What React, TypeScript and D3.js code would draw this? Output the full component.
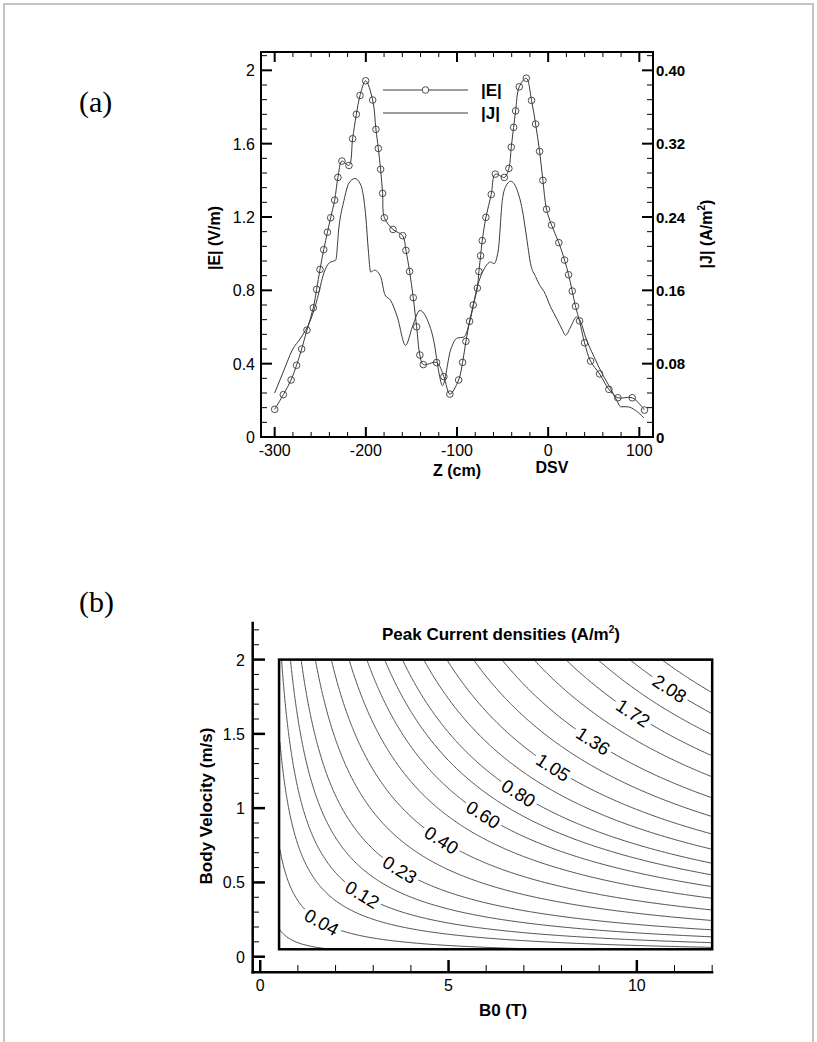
import React, { useEffect, useRef } from "react"
import * as d3 from "d3"

// ---- (a) field profile along the bore ----
// |E| samples (circle markers), Z in cm, |E| in V/m
const eZ = [
  -300, -290.5, -282, -276, -270.4, -264.6, -257.6, -254, -250.3, -246.2, -242.1, -238.6, -234.2,
  -230.6, -226.2, -218.5, -214.5, -210.4, -206.4, -200.2, -192.5, -188.9, -186.3, -183.8, -181.6,
  -179.7, -170.2, -159.6, -156, -152, -148, -144.3, -140.7, -137, -122.4, -114.4, -107.8, -98.2,
  -93.9, -90.2, -86.2, -82.2, -77.7, -76, -74.1, -72.3, -68.3, -62.4, -58, -48.1, -43.1, -40.5,
  -37.9, -35.7, -31.7, -24, -18.2, -13.8, -9.4, -5.8, -1.8, 3.7, 11.7, 18, 22.4, 26.4, 30, 34.4,
  39.9, 46.5, 56.4, 66.6, 76.4, 92.2, 105.7,
]
const eVal = [
  0.151, 0.231, 0.311, 0.391, 0.48, 0.583, 0.705, 0.805, 0.914, 1.022, 1.117, 1.196, 1.292,
  1.416, 1.505, 1.481, 1.627, 1.76, 1.863, 1.943, 1.838, 1.678, 1.574, 1.46, 1.329,
  1.196, 1.132, 1.098, 1.018, 0.903, 0.76, 0.601, 0.447, 0.395, 0.406, 0.329, 0.234, 0.311,
  0.407, 0.522, 0.631, 0.72, 0.812, 0.903, 0.989, 1.071, 1.198, 1.323, 1.434, 1.416, 1.465, 1.581,
  1.689, 1.779, 1.91, 1.957, 1.836, 1.707, 1.558, 1.4, 1.242, 1.156, 1.06, 0.965, 0.885, 0.796, 0.713, 0.633,
  0.514, 0.414, 0.344, 0.26, 0.214, 0.214, 0.147,
]
// |J| curve, Z in cm, |J| in A/m^2
const jZ = [
  -300, -289.8, -280.6, -271.5, -260.5, -253.2, -246, -240, -233, -229.5, -224, -218.5, -212, -206,
  -203.8, -200, -197.3, -194.7, -190.4, -183.8, -179, -172.8, -165.5, -156.4, -149, -140.7, -132.6,
  -125.3, -119.8, -116, -107, -99.7, -92.4, -86, -77.7, -68.6, -63.2, -59.5, -54.7, -50.3, -46.7,
  -41, -33.9, -28.4, -23.7, -19.3, -13.8, -8.3, -4.7, 2.6, 10, 15.5, 19.1, 24.6, 31.1, 35.5, 41,
  50.1, 59.3, 68.4, 75.8, 79.4, 86.7, 95.8, 104.9,
]
const jVal = [
  0.048, 0.073, 0.095, 0.108, 0.128, 0.151, 0.179, 0.19, 0.193, 0.229, 0.258, 0.277, 0.282, 0.276,
  0.269, 0.24, 0.204, 0.18, 0.182, 0.175, 0.155, 0.149, 0.131, 0.1, 0.12, 0.138, 0.128,
  0.104, 0.07, 0.056, 0.095, 0.108, 0.109, 0.126, 0.164, 0.186, 0.191, 0.189, 0.204, 0.258, 0.273,
  0.279, 0.269, 0.248, 0.218, 0.189, 0.175, 0.164, 0.159, 0.142, 0.128, 0.117, 0.111, 0.12, 0.131, 0.126, 0.109,
  0.088, 0.069, 0.053, 0.039, 0.033, 0.033, 0.029, 0.021,
]
const legendNames = ["|E|", "|J|"]
const zTicks = [-300, -200, -100, 0, 100]
const eTicks = [0, 0.4, 0.8, 1.2, 1.6, 2]
const jTicks = [0, 0.08, 0.16, 0.24, 0.32, 0.4]

// ---- (b) peak current density map ----
const b0Ticks = [0, 5, 10]
const velTicks = [0, 0.5, 1, 1.5, 2]
const b0Range = [0.5, 12]
const velRange = [0.05, 2]
const sigmaEff = 0.106 // J = sigma * B0 * v
const levels = [
  0.01, 0.04, 0.08, 0.12, 0.17, 0.23, 0.31, 0.4, 0.5, 0.6, 0.7, 0.8, 0.92, 1.05, 1.2, 1.36, 1.54,
  1.72, 1.9, 2.08, 2.26,
]
const labelLevels = [0.04, 0.12, 0.23, 0.4, 0.6, 0.8, 1.05, 1.36, 1.72, 2.08]
const labelB0 = [1.65, 2.7, 3.72, 4.82, 5.93, 6.86, 7.79, 8.85, 9.91, 10.88]

const SANS = "'Liberation Sans', Arial, Helvetica, sans-serif"
const SERIF = "'Liberation Serif', 'Times New Roman', serif"
const INK = "#3a3a3a"

function drawProfile(svg: any) {
  const left = 261, right = 653, top = 52, bottom = 437
  const x = d3.scaleLinear().domain([-315, 115]).range([left, right])
  const yE = d3.scaleLinear().domain([0, 2.1]).range([bottom, top])
  const yJ = d3.scaleLinear().domain([0, 0.42]).range([bottom, top])
  const g = svg.append("g").attr("font-family", SANS)

  svg.append("clipPath").attr("id", "clipA").append("rect")
    .attr("x", left).attr("y", top).attr("width", right - left).attr("height", bottom - top)

  const plot = g.append("g").attr("clip-path", "url(#clipA)")
  const jLine = d3.line<number>().x((d, i) => x(jZ[i])).y(d => yJ(d)).curve(d3.curveMonotoneX)
  plot.append("path").datum(jVal).attr("d", jLine)
    .attr("fill", "none").attr("stroke", INK).attr("stroke-width", 1)
  const eLine = d3.line<number>().x((d, i) => x(eZ[i])).y(d => yE(d)).curve(d3.curveCatmullRom.alpha(0.5))
  plot.append("path").datum(eVal).attr("d", eLine)
    .attr("fill", "none").attr("stroke", INK).attr("stroke-width", 1)
  plot.selectAll("circle.mk").data(eVal).join("circle").attr("class", "mk")
    .attr("cx", (d, i) => x(eZ[i])).attr("cy", d => yE(d)).attr("r", 3.3)
    .attr("fill", "none").attr("stroke", INK).attr("stroke-width", 0.9)

  // frame
  g.append("rect").attr("x", left).attr("y", top).attr("width", right - left).attr("height", bottom - top)
    .attr("fill", "none").attr("stroke", "#000").attr("stroke-width", 2)

  // ticks
  const zMinor = d3.range(-300, 101, 20).filter(v => v % 100 !== 0)
  const tick = (x1: number, y1: number, x2: number, y2: number, w: number) =>
    g.append("line").attr("x1", x1).attr("y1", y1).attr("x2", x2).attr("y2", y2)
      .attr("stroke", "#000").attr("stroke-width", w)
  zTicks.forEach(v => { tick(x(v), bottom, x(v), bottom - 10, 2); tick(x(v), top, x(v), top + 10, 2) })
  zMinor.forEach(v => { tick(x(v), bottom, x(v), bottom - 5, 1); tick(x(v), top, x(v), top + 5, 1) })
  eTicks.forEach(v => tick(left, yE(v), left + 11, yE(v), 2))
  d3.range(0, 27).filter(i => i % 5 !== 0).forEach(i => tick(left, yE(i * 0.08), left + 6, yE(i * 0.08), 1))
  jTicks.forEach(v => tick(right, yJ(v), right - 11, yJ(v), 2))
  d3.range(0, 27).filter(i => i % 5 !== 0).forEach(i => tick(right, yJ(i * 0.016), right - 6, yJ(i * 0.016), 1))

  // tick labels
  g.selectAll("text.zl").data(zTicks).join("text").attr("class", "zl")
    .attr("x", d => x(d)).attr("y", 456).attr("text-anchor", "middle").attr("font-size", 16)
    .text(d => String(d))
  g.selectAll("text.el").data(eTicks).join("text").attr("class", "el")
    .attr("x", 255).attr("y", d => yE(d) + 6).attr("text-anchor", "end").attr("font-size", 16)
    .text(d => String(d))
  g.selectAll("text.jl").data(jTicks).join("text").attr("class", "jl")
    .attr("x", 656).attr("y", d => yJ(d) + 5.5).attr("font-size", 15).attr("font-weight", "bold")
    .text(d => (d === 0 ? "0" : d3.format(".2f")(d)))

  // axis titles
  g.append("text").attr("x", 457).attr("y", 476).attr("text-anchor", "middle")
    .attr("font-size", 16).attr("font-weight", "bold").text("Z (cm)")
  g.append("text").attr("x", 552).attr("y", 473).attr("text-anchor", "middle")
    .attr("font-size", 16).attr("font-weight", "bold").text("DSV")
  g.append("text").attr("transform", "translate(220,238) rotate(-90)").attr("text-anchor", "middle")
    .attr("font-size", 16).attr("font-weight", "bold").text("|E| (V/m)")
  const jt = g.append("text").attr("transform", "translate(712,234) rotate(-90)").attr("text-anchor", "middle")
    .attr("font-size", 16).attr("font-weight", "bold")
  jt.append("tspan").text("|J| (A/m")
  jt.append("tspan").attr("dy", -7).attr("font-size", 10).text("2")
  jt.append("tspan").attr("dy", 7).text(")")

  // legend
  const ly = [90, 113]
  legendNames.forEach((name, i) => {
    g.append("line").attr("x1", 383).attr("x2", 468).attr("y1", ly[i]).attr("y2", ly[i])
      .attr("stroke", INK).attr("stroke-width", 1)
    if (i === 0)
      g.append("circle").attr("cx", 425.5).attr("cy", ly[i]).attr("r", 3.3)
        .attr("fill", "#fff").attr("stroke", INK).attr("stroke-width", 0.9)
    g.append("text").attr("x", 481).attr("y", ly[i] + 6).attr("font-size", 17)
      .attr("font-weight", "bold").text(name)
  })
}

function drawContours(svg: any) {
  const bx = d3.scaleLinear().domain([-0.2, 12.03]).range([252.7, 713.3])
  const vy = d3.scaleLinear().domain([-0.105, 2.255]).range([972.3, 621.7])
  const g = svg.append("g").attr("font-family", SANS)
  const fx0 = bx(b0Range[0]), fx1 = bx(b0Range[1]), fy0 = vy(velRange[1]), fy1 = vy(velRange[0])

  // field grid
  const n = 260, m = 220
  const vals: number[] = new Array(n * m)
  for (let j = 0; j < m; j++) {
    const v = velRange[1] - (j + 0.5) * (velRange[1] - velRange[0]) / m
    for (let i = 0; i < n; i++) {
      const b = b0Range[0] + (i + 0.5) * (b0Range[1] - b0Range[0]) / n
      vals[j * n + i] = sigmaEff * b * v
    }
  }
  const gx = (c: number) => bx(b0Range[0] + c * (b0Range[1] - b0Range[0]) / n)
  const gy = (c: number) => vy(velRange[1] - c * (velRange[1] - velRange[0]) / m)
  const proj = d3.geoTransform({
    point(this: any, px: number, py: number) { this.stream.point(gx(px), gy(py)) },
  })
  const path = d3.geoPath(proj as any)
  const contours = d3.contours().size([n, m]).thresholds(levels)(vals)

  svg.append("clipPath").attr("id", "clipB").append("rect")
    .attr("x", fx0).attr("y", fy0).attr("width", fx1 - fx0).attr("height", fy1 - fy0)
  const plot = g.append("g").attr("clip-path", "url(#clipB)")
  plot.selectAll("path.ct").data(contours).join("path").attr("class", "ct")
    .attr("d", (d: any) => path(d)).attr("fill", "none").attr("stroke", INK).attr("stroke-width", 0.9)

  // labels on the lines
  labelLevels.forEach((lv, k) => {
    const c: any = contours.find((d: any) => Math.abs(d.value - lv) < 1e-9)
    if (!c) return
    const tx = bx(labelB0[k])
    let best: any = null
    c.coordinates.forEach((poly: any) => poly.forEach((ring: any) => {
      const pts = ring.map((p: number[]) => [gx(p[0]), gy(p[1])])
      pts.forEach((p: number[], i: number) => {
        if (p[0] < fx0 + 2 || p[0] > fx1 - 2 || p[1] < fy0 + 2 || p[1] > fy1 - 2) return
        const dd = Math.abs(p[0] - tx)
        if (!best || dd < best.dd) {
          const a = pts[Math.max(0, i - 3)], b = pts[Math.min(pts.length - 1, i + 3)]
          best = { dd, p, a, b }
        }
      })
    }))
    if (!best) return
    let ang = Math.atan2(best.b[1] - best.a[1], best.b[0] - best.a[0]) * 180 / Math.PI
    if (ang > 90) ang -= 180
    if (ang < -90) ang += 180
    const lg = plot.append("g").attr("transform", `translate(${best.p[0]},${best.p[1]}) rotate(${ang})`)
    lg.append("rect").attr("x", -21).attr("y", -9).attr("width", 42).attr("height", 18).attr("fill", "#fff")
    lg.append("text").attr("x", 0).attr("y", 6.5).attr("text-anchor", "middle").attr("font-size", 18.5)
      .attr("fill", "#000").text(d3.format(".2f")(lv))
  })

  // frame of the data region
  g.append("rect").attr("x", fx0).attr("y", fy0).attr("width", fx1 - fx0).attr("height", fy1 - fy0)
    .attr("fill", "none").attr("stroke", "#000").attr("stroke-width", 2.5)

  // axes
  g.append("line").attr("x1", 252.7).attr("x2", 252.7).attr("y1", 621.7).attr("y2", 973.5)
    .attr("stroke", "#000").attr("stroke-width", 2.5)
  g.append("line").attr("x1", 251.5).attr("x2", 713.3).attr("y1", 972.3).attr("y2", 972.3)
    .attr("stroke", "#000").attr("stroke-width", 2.5)
  const tick = (x1: number, y1: number, x2: number, y2: number, w: number) =>
    g.append("line").attr("x1", x1).attr("y1", y1).attr("x2", x2).attr("y2", y2)
      .attr("stroke", "#000").attr("stroke-width", w)
  b0Ticks.forEach(v => tick(bx(v), 972.3, bx(v), 960, 2.5))
  d3.range(1, 13).filter(v => v % 5 !== 0).forEach(v => tick(bx(v), 972.3, bx(v), 965, 1))
  velTicks.forEach(v => tick(252.7, vy(v), 265, vy(v), 2.5))
  d3.range(1, 23).filter(i => i % 5 !== 0).forEach(i => tick(252.7, vy(i * 0.1), 259, vy(i * 0.1), 1))

  g.selectAll("text.bl").data(b0Ticks).join("text").attr("class", "bl")
    .attr("x", d => bx(d)).attr("y", 991).attr("text-anchor", "middle").attr("font-size", 16)
    .text(d => String(d))
  g.selectAll("text.vl").data(velTicks).join("text").attr("class", "vl")
    .attr("x", 245).attr("y", d => vy(d) + 6).attr("text-anchor", "end").attr("font-size", 16)
    .text(d => String(d))

  g.append("text").attr("x", 503).attr("y", 1016).attr("text-anchor", "middle")
    .attr("font-size", 17).attr("font-weight", "bold").text("B0 (T)")
  g.append("text").attr("transform", "translate(212,806) rotate(-90)").attr("text-anchor", "middle")
    .attr("font-size", 17).attr("font-weight", "bold").text("Body Velocity (m/s)")
  const tt = g.append("text").attr("x", 501).attr("y", 640).attr("text-anchor", "middle")
    .attr("font-size", 17).attr("font-weight", "bold")
  tt.append("tspan").text("Peak Current densities (A/m")
  tt.append("tspan").attr("dy", -7).attr("font-size", 10).text("2")
  tt.append("tspan").attr("dy", 7).text(")")
}

export default function App() {
  const ref = useRef<SVGSVGElement>(null)
  useEffect(() => {
    const svg = d3.select(ref.current)
    svg.selectAll("*").remove()
    svg.append("rect").attr("x", 4).attr("y", 4).attr("width", 809).attr("height", 1060)
      .attr("fill", "none").attr("stroke", "#c4c4c4").attr("stroke-width", 2)
    svg.append("text").attr("x", 79).attr("y", 112).attr("font-family", SERIF).attr("font-size", 30).text("(a)")
    svg.append("text").attr("x", 79).attr("y", 612).attr("font-family", SERIF).attr("font-size", 30).text("(b)")
    drawProfile(svg)
    drawContours(svg)
  }, [])
  return (
    <svg ref={ref} width={817} height={1042}
      style={{ position: "absolute", left: 0, top: 0, background: "#fff", display: "block" }} />
  )
}
